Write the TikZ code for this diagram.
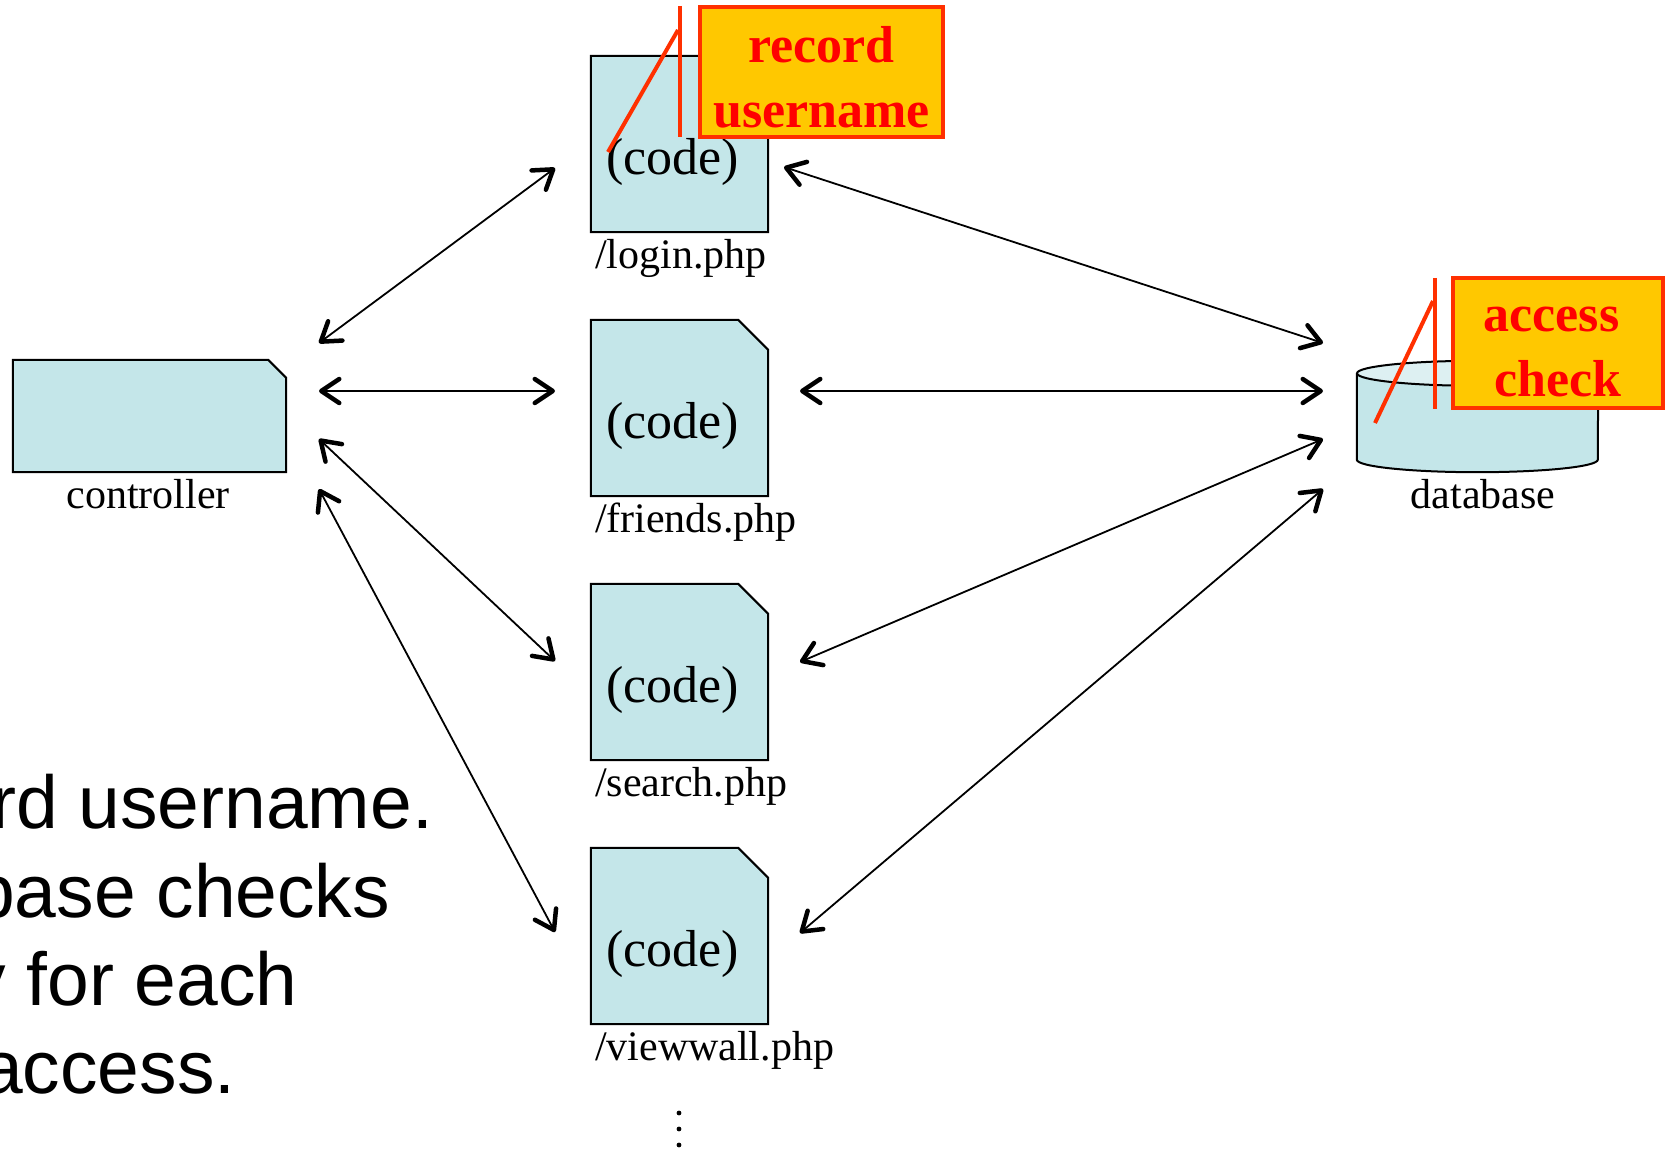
\documentclass[tikz,border=0pt]{standalone}
\usepackage{fontspec}
\setmainfont{Liberation Serif}
\newfontfamily\hintfont{Liberation Sans}
\usetikzlibrary{arrows.meta, calc}
\definecolor{pagecyan}{RGB}{196, 230, 233}
\definecolor{pagetop}{RGB}{221, 240, 242}
\definecolor{noteorange}{RGB}{255, 200, 0}
\definecolor{notered}{RGB}{255, 48, 0}
\definecolor{notetext}{RGB}{255, 0, 0}
\newcommand{\labelsize}{\fontsize{42}{50}\selectfont}
\newcommand{\codesize}{\fontsize{52}{64}\selectfont}
\newcommand{\hintsize}{\fontsize{75}{88}\selectfont}
% page outline with a cut top-right corner
\newcommand{\docshape}[2]{%
  \filldraw[boxline] (#1.south west) |- ($(#1.north east)+(-#2,0)$)
    -- ($(#1.north east)+(0,#2)$) |- cycle;}

\begin{document}
\begin{tikzpicture}[x=1pt, y=-1pt,
  barb/.tip={Straight Barb[length=18pt, width=24pt, line width=4.5pt, round]},
  link/.style={barb-barb, line width=1.8pt},
  boxline/.style={draw=black, line width=2pt, fill=pagecyan, line join=miter},
  pagebox/.style={rectangle, minimum width=177pt, minimum height=176pt, inner sep=0pt},
  codetext/.style={font=\codesize, inner sep=0pt},
  pagelabel/.style={font=\labelsize, inner sep=0pt},
  notebox/.style={draw=notered, line width=4pt, fill=noteorange, inner sep=0pt},
  notetext/.style={text=notetext, font=\codesize\bfseries, align=center, inner sep=0pt},
  pointer/.style={draw=notered, line width=4pt},
  hint/.style={font=\hintfont\hintsize, inner sep=0pt, anchor=base west}]

  \useasboundingbox (0,0) rectangle (1668,1150);
  \clip (0,0) rectangle (1668,1150);

  % ---------- controller ----------
  \node[pagebox, minimum width=273pt, minimum height=112pt] (ctrl) at (149.5,416) {};
  \docshape{ctrl}{18}
  \node[pagelabel, anchor=base] (ctrllbl) at (148,508) {controller};

  % ---------- php pages ----------
  \foreach \name [count=\i] in {login, friends, search, viewwall} {
    \node[pagebox] (\name) at (679.5,{144+264*(\i-1)}) {};
    \docshape{\name}{30}
    \node[codetext] (\name-code) at ($(\name.center)+(-7,18)$) {(code)};
    \node[pagelabel, anchor=base west] (\name-lbl) at ($(\name.south west)+(4,36)$) {/\name.php};
  }
  \foreach \y in {1113,1129,1145}
    \fill (679,\y) circle (2.4);

  % ---------- database ----------
  \node[rectangle, minimum width=241pt, minimum height=111pt, inner sep=0pt] (db) at (1477.5,416.5) {};
  \fill[pagecyan] ($(db.north west)+(0,12.5)$) -- ($(db.south west)+(0,-12.5)$)
    arc[start angle=180, end angle=0, x radius=120.5, y radius=12.5]
    -- ($(db.north east)+(0,12.5)$) -- cycle;
  \draw[line width=2pt] ($(db.north west)+(0,12.5)$) -- ($(db.south west)+(0,-12.5)$)
    arc[start angle=180, end angle=0, x radius=120.5, y radius=12.5]
    -- ($(db.north east)+(0,12.5)$);
  \filldraw[fill=pagetop, line width=2pt] ($(db.north)+(0,12.5)$) ellipse[x radius=120.5, y radius=12.5];
  \node[pagelabel, anchor=base] (dblbl) at (1483,508) {database};

  % ---------- arrow ends ----------
  \foreach \y [count=\i] in {343,391,439,489} {
    \coordinate (ctrl\i) at (319,\y);
    \coordinate (db\i) at (1323,\y);
  }
  \coordinate (login-w) at (555,168);     \coordinate (login-e) at (784,167);
  \coordinate (friends-w) at (555,391);   \coordinate (friends-e) at (800,391);
  \coordinate (search-w) at (555,661);    \coordinate (search-e) at (800,662);
  \coordinate (viewwall-w) at (555,932);  \coordinate (viewwall-e) at (800,933);

  \foreach \name [count=\i] in {login, friends, search, viewwall} {
    \draw[link] (ctrl\i) -- (\name-w);
    \draw[link] (\name-e) -- (db\i);
  }

  % ---------- callouts ----------
  \node[notebox, minimum width=243pt, minimum height=130pt] (recnote) at (821.5,72) {};
  \node[notetext] (rectext) at ($(recnote.center)+(0,5)$) {record\\[1pt]username};
  \coordinate (rectip) at (608,152);
  \draw[pointer] ($(recnote.north west)+(-18,1)$) -- ($(recnote.south west)+(-18,-2)$);
  \draw[pointer] ($(recnote.north west)+(-20,25)$) -- (rectip);

  \node[notebox, minimum width=210pt, minimum height=130pt] (accnote) at (1558,343) {};
  \node[notetext] (acctext) at ($(accnote.center)+(0,9)$) {access\hspace*{0.25em}\\[1pt]check};
  \coordinate (acctip) at (1375,423);
  \draw[pointer] ($(accnote.north west)+(-16,2)$) -- ($(accnote.south west)+(-16,-1)$);
  \draw[pointer] ($(accnote.north west)+(-18,25)$) -- (acctip);

  % ---------- cut-off slide text ----------
  \node[hint] (hint1) at (-9,828) {rd username.};
  \node[hint] (hint2) at (-27,917) {base checks};
  \node[hint] (hint3) at (-32,1005) {y for each};
  \node[hint] (hint4) at (-19,1093) {access.};

\end{tikzpicture}
\end{document}
